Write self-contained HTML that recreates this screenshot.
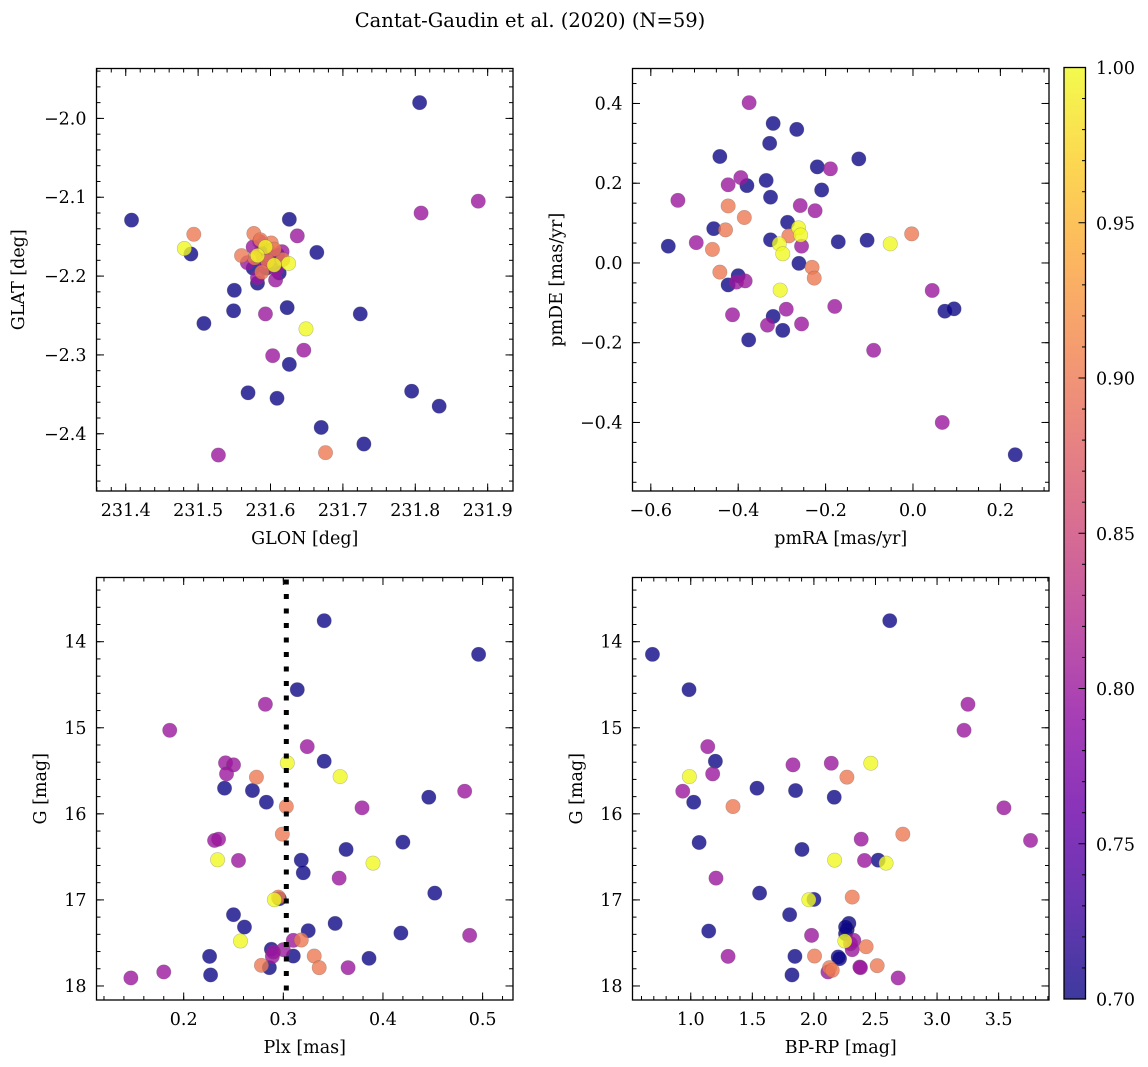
<!DOCTYPE html>
<html><head><meta charset="utf-8"><style>
html,body{margin:0;padding:0;background:#fff;}
svg{display:block;font-family:"DejaVu Serif","Liberation Serif",serif;}
</style></head><body>
<svg id="fig" width="1148" height="1067" viewBox="0 0 1148 1067" xmlns="http://www.w3.org/2000/svg">
<rect width="1148" height="1067" fill="#fff"/>
<text x="530" y="27" font-size="19.5" text-anchor="middle">Cantat-Gaudin et al. (2020) (N=59)</text>
</svg>
<script>
// Panel 1: GLON vs GLAT
const p1x=[231.599,231.608,231.576,231.594,231.617,231.587,231.601,231.610,231.592,231.585,231.603,231.578,231.596,
231.806,231.887,231.808,231.408,231.626,231.494,231.637,231.481,231.490,231.664,231.577,231.586,231.576,231.593,231.605,231.616,231.560,231.582,231.568,231.596,231.605,231.625,231.612,231.588,231.582,231.582,231.607,231.590,231.550,231.549,231.623,231.593,231.724,231.508,231.649,231.646,231.603,231.626,231.569,231.609,231.795,231.833,231.670,231.729,231.528,231.676];
const p1y=[-2.173,-2.192,-2.190,-2.190,-2.179,-2.169,-2.158,-2.173,-2.186,-2.156,-2.179,-2.177,-2.167,
-1.980,-2.105,-2.120,-2.129,-2.128,-2.147,-2.149,-2.165,-2.172,-2.170,-2.146,-2.154,-2.163,-2.163,-2.166,-2.169,-2.174,-2.174,-2.183,-2.181,-2.186,-2.184,-2.196,-2.195,-2.202,-2.209,-2.205,-2.177,-2.218,-2.244,-2.240,-2.248,-2.248,-2.260,-2.267,-2.294,-2.301,-2.312,-2.348,-2.355,-2.346,-2.365,-2.392,-2.413,-2.427,-2.424];
const p1p=[0.80,0.80,0.70,0.70,0.90,0.80,0.90,0.70,0.80,0.80,0.80,0.90,0.70,
0.70,0.80,0.80,0.70,0.70,0.90,0.80,1.00,0.70,0.70,0.90,0.90,0.80,1.00,0.90,0.80,0.90,1.00,0.80,0.90,1.00,1.00,0.70,0.90,0.80,0.70,0.80,0.70,0.70,0.70,0.70,0.80,0.70,0.70,1.00,0.80,0.80,0.70,0.70,0.70,0.70,0.70,0.70,0.70,0.80,0.90];
// Panel 2: pmRA vs pmDE
const p2x=[-0.375,-0.320,-0.266,-0.328,-0.442,-0.124,-0.219,-0.189,-0.394,-0.423,-0.380,-0.336,-0.209,-0.326,-0.538,-0.423,-0.258,-0.224,-0.386,-0.287,-0.456,-0.429,-0.262,-0.284,-0.257,-0.003,-0.560,-0.496,-0.326,-0.306,-0.255,-0.171,-0.105,-0.052,-0.459,-0.298,-0.261,-0.231,-0.226,-0.442,-0.400,-0.423,-0.404,-0.384,-0.304,0.044,0.073,0.094,-0.179,-0.290,-0.413,-0.320,-0.333,-0.255,-0.298,-0.376,-0.090,0.067,0.234];
const p2y=[0.402,0.350,0.335,0.300,0.267,0.261,0.241,0.236,0.214,0.196,0.194,0.207,0.183,0.165,0.157,0.143,0.144,0.131,0.114,0.102,0.086,0.083,0.088,0.068,0.070,0.073,0.042,0.051,0.058,0.048,0.042,0.053,0.057,0.048,0.034,0.023,-0.001,-0.011,-0.038,-0.023,-0.032,-0.055,-0.048,-0.045,-0.068,-0.069,-0.121,-0.115,-0.109,-0.116,-0.130,-0.134,-0.156,-0.153,-0.169,-0.193,-0.219,-0.400,-0.481];
const p2p=[0.80,0.70,0.70,0.70,0.70,0.70,0.70,0.80,0.80,0.80,0.70,0.70,0.70,0.70,0.80,0.90,0.80,0.80,0.90,0.70,0.70,0.90,1.00,0.90,1.00,0.90,0.70,0.80,0.70,1.00,0.80,0.70,0.70,1.00,0.90,1.00,0.70,0.90,0.90,0.90,0.70,0.70,0.80,0.80,1.00,0.80,0.70,0.70,0.80,0.80,0.80,0.70,0.80,0.80,0.70,0.70,0.80,0.80,0.70];
// Panel 3: Plx vs G
const p3x=[0.341,0.496,0.314,0.282,0.186,0.324,0.304,0.242,0.250,0.243,0.341,0.357,0.273,0.241,0.269,0.283,0.303,0.446,0.482,0.379,0.299,0.231,0.235,0.420,0.363,0.234,0.255,0.318,0.390,0.320,0.356,0.452,0.295,0.296,0.291,0.250,0.261,0.352,0.325,0.418,0.487,0.257,0.310,0.318,0.288,0.300,0.226,0.289,0.310,0.331,0.386,0.278,0.286,0.336,0.365,0.180,0.147,0.227,0.290];
const p3y=[13.756,14.147,14.557,14.727,15.029,15.219,15.408,15.408,15.431,15.536,15.389,15.567,15.574,15.702,15.729,15.865,15.915,15.807,15.737,15.930,16.236,16.309,16.294,16.329,16.414,16.534,16.542,16.538,16.573,16.685,16.747,16.921,16.967,16.986,16.998,17.172,17.315,17.273,17.358,17.385,17.412,17.478,17.470,17.466,17.574,17.578,17.656,17.656,17.652,17.652,17.679,17.760,17.787,17.787,17.787,17.837,17.907,17.872,17.605];
const p3p=[0.70,0.70,0.70,0.80,0.80,0.80,1.00,0.80,0.80,0.80,0.70,1.00,0.90,0.70,0.70,0.70,0.90,0.70,0.80,0.80,0.90,0.80,0.80,0.70,0.70,1.00,0.80,0.70,1.00,0.70,0.80,0.70,0.90,0.70,1.00,0.70,0.70,0.70,0.70,0.70,0.80,1.00,0.80,0.90,0.70,0.80,0.70,0.80,0.70,0.90,0.70,0.90,0.70,0.90,0.80,0.80,0.80,0.70,0.80];
const plxLine=0.303;
// Panel 4: BP-RP vs G
const p4x=[2.616,0.689,0.986,3.251,3.219,1.138,1.200,1.830,2.141,2.462,0.989,1.178,2.268,0.935,1.538,1.851,1.024,2.165,1.343,3.543,2.722,2.384,3.759,1.068,1.903,2.168,2.411,2.522,2.586,1.205,1.559,2.000,1.959,2.311,1.803,2.284,2.270,1.146,1.981,2.324,2.251,2.424,2.311,1.303,1.846,2.005,2.197,2.127,2.114,2.373,2.514,1.822,2.684,2.257,2.208,2.378,2.149,2.297,2.257];
const p4y=[13.756,14.147,14.557,14.727,15.029,15.219,15.389,15.431,15.412,15.412,15.567,15.536,15.574,15.737,15.702,15.729,15.865,15.807,15.915,15.930,16.236,16.294,16.309,16.333,16.414,16.538,16.542,16.538,16.573,16.747,16.921,16.994,16.998,16.967,17.172,17.273,17.346,17.362,17.412,17.470,17.478,17.544,17.578,17.656,17.656,17.652,17.663,17.787,17.837,17.780,17.764,17.872,17.907,17.393,17.683,17.787,17.818,17.509,17.315];
const p4p=[0.70,0.70,0.70,0.80,0.80,0.80,0.70,0.80,0.80,1.00,1.00,0.80,0.90,0.80,0.70,0.70,0.70,0.70,0.90,0.80,0.90,0.80,0.80,0.70,0.70,1.00,0.80,0.70,1.00,0.80,0.70,0.70,1.00,0.90,0.70,0.70,0.70,0.70,0.80,0.80,1.00,0.90,0.80,0.80,0.70,0.90,0.70,0.90,0.80,0.80,0.90,0.70,0.80,0.70,0.70,0.80,0.90,0.80,0.70];
// Tick labels
const t1x=[231.4,231.5,231.6,231.7,231.8,231.9];
const t1y=[-2.0,-2.1,-2.2,-2.3,-2.4];
const t2x=[-0.6,-0.4,-0.2,0.0,0.2];
const t2y=[0.4,0.2,0.0,-0.2,-0.4];
const t3x=[0.2,0.3,0.4,0.5];
const t3y=[14,15,16,17,18];
const t4x=[1.0,1.5,2.0,2.5,3.0,3.5];
const cbTicks=[0.70,0.75,0.80,0.85,0.90,0.95,1.00];

const NS='http://www.w3.org/2000/svg';
const svg=document.getElementById('fig');
const stops=['#0d0887','#41049d','#6a00a8','#8f0da4','#b12a90','#cc4778','#e16462','#f2844b','#fca636','#fcce25','#f0f921'];
function hex(h){return [parseInt(h.substr(1,2),16),parseInt(h.substr(3,2),16),parseInt(h.substr(5,2),16)];}
function plasma(t){t=Math.max(0,Math.min(1,t));const f=t*10,i=Math.min(9,Math.floor(f)),u=f-i;const a=hex(stops[i]),b=hex(stops[i+1]);
return 'rgb('+a.map((v,k)=>Math.round(v+(b[k]-v)*u)).join(',')+')';}
function mk(tag,at,parent){const e=document.createElementNS(NS,tag);for(const k in at)e.setAttribute(k,at[k]);(parent||svg).appendChild(e);return e;}
function fmt(v,d){const s=Math.abs(v).toFixed(d);return (v<-1e-9?'\u2212':'')+s;}
const FS=17.5;

function panel(name,L,R,T,B,xd,yd,px,py,pp,xt,yt,xdec,ydec,xmin,ymin,xlab,ylab,ylabX){
  const g=mk('g',{});
  
  
  const X=v=>L+(v-xd[0])/(xd[1]-xd[0])*(R-L);
  const Y=v=>T+(v-yd[0])/(yd[1]-yd[0])*(B-T);
  const ord=pp.map((v,i)=>i).sort((a,b)=>pp[a]-pp[b]);
  ord.forEach(i=>{
    const c=mk('circle',{cx:X(px[i]),cy:Y(py[i]),r:7.2,fill:plasma((pp[i]-0.7)/0.3),'fill-opacity':0.8,stroke:'#555','stroke-opacity':0.35,'stroke-width':0.6},g);
    
    
  });
  if(name==='plx-panel'){
    const l=mk('line',{x1:X(plxLine),x2:X(plxLine),y1:T+2,y2:B,stroke:'#000','stroke-width':5,'stroke-dasharray':'5 9.5'},g);
    
    
  }
  const tk=mk('g',{stroke:'#000','stroke-width':1},g);
  function xticks(step,len){const s=Math.ceil(Math.min(xd[0],xd[1])/step-1e-6);for(let k=s;k*step<=Math.max(xd[0],xd[1])+1e-9;k++){const x=X(k*step);mk('line',{x1:x,x2:x,y1:B,y2:B-len},tk);mk('line',{x1:x,x2:x,y1:T,y2:T+len},tk);}}
  function yticks(step,len){const lo=Math.min(yd[0],yd[1]),hi=Math.max(yd[0],yd[1]);const s=Math.ceil(lo/step-1e-6);for(let k=s;k*step<=hi+1e-9;k++){const y=Y(k*step);mk('line',{x1:L,x2:L+len,y1:y,y2:y},tk);mk('line',{x1:R,x2:R-len,y1:y,y2:y},tk);}}
  xticks(xmin,4);yticks(ymin,4);
  xt.forEach(v=>{const x=X(v);mk('line',{x1:x,x2:x,y1:B,y2:B-7.5},tk);mk('line',{x1:x,x2:x,y1:T,y2:T+7.5},tk);
    const t=mk('text',{x:x,y:B+25,'font-size':FS,'text-anchor':'middle'},g);t.textContent=fmt(v,xdec);
    
    });
  yt.forEach(v=>{const y=Y(v);mk('line',{x1:L,x2:L+7.5,y1:y,y2:y},tk);mk('line',{x1:R,x2:R-7.5,y1:y,y2:y},tk);
    const t=mk('text',{x:L-10,y:y+6,'font-size':FS,'text-anchor':'end'},g);t.textContent=fmt(v,ydec);
    
    });
  const fr=mk('rect',{x:L,y:T,width:R-L,height:B-T,fill:'none',stroke:'#000','stroke-width':1.3},g);
  
  
  const xl=mk('text',{x:(L+R)/2,y:B+53,'font-size':FS,'text-anchor':'middle'},g);xl.textContent=xlab;
  
  
  const cy=(T+B)/2;
  const yl=mk('text',{x:ylabX,y:cy,'font-size':FS,'text-anchor':'middle',transform:'rotate(-90 '+ylabX+' '+cy+')'},g);yl.textContent=ylab;
  
  
}
panel('glon-glat-panel',96.5,513,68.5,491,[231.3596,231.935],[-1.9367,-2.4726],p1x,p1y,p1p,t1x,t1y,1,1,0.02,0.02,'GLON [deg]','GLAT [deg]',24);
panel('pm-panel',632.5,1049,68.5,491,[-0.6419,0.3113],[0.4877,-0.5719],p2x,p2y,p2p,t2x,t2y,1,1,0.05,0.05,'pmRA [mas/yr]','pmDE [mas/yr]',562);
panel('plx-panel',96.5,513,577.5,1000,[0.1125,0.5305],[13.254,18.163],p3x,p3y,p3p,t3x,t3y,1,0,0.02,0.2,'Plx [mas]','G [mag]',46);
panel('cmd-panel',632.5,1049,577.5,1000,[0.527,3.909],[13.254,18.163],p4x,p4y,p4p,t4x,t3y,1,0,0.1,0.2,'BP-RP [mag]','G [mag]',582);

// Colorbar
const cg=mk('g',{});


const defs=mk('defs',{},cg);
const lg=mk('linearGradient',{id:'cbg',x1:0,y1:1,x2:0,y2:0},defs);
for(let i=0;i<=20;i++){mk('stop',{offset:i/20,'stop-color':plasma(i/20),'stop-opacity':0.8},lg);}
const cbL=1064,cbR=1085.5,cbT=67.5,cbB=999;
mk('rect',{x:cbL,y:cbT,width:cbR-cbL,height:cbB-cbT,fill:'url(#cbg)'},cg);
const CY=v=>cbB-(v-0.7)/0.3*(cbB-cbT);
for(let k=70;k<=100;k++){const y=CY(k/100);mk('line',{x1:cbR,x2:cbR-(k%5===0?7:3.5),y1:y,y2:y,stroke:'#000','stroke-width':1},cg);}
cbTicks.forEach(v=>{const t=mk('text',{x:1096,y:CY(v)+6.5,'font-size':FS},cg);t.textContent=v.toFixed(2);
  
  });
mk('rect',{x:cbL,y:cbT,width:cbR-cbL,height:cbB-cbT,fill:'none',stroke:'#000','stroke-width':1.3},cg);
</script>
</body></html>
